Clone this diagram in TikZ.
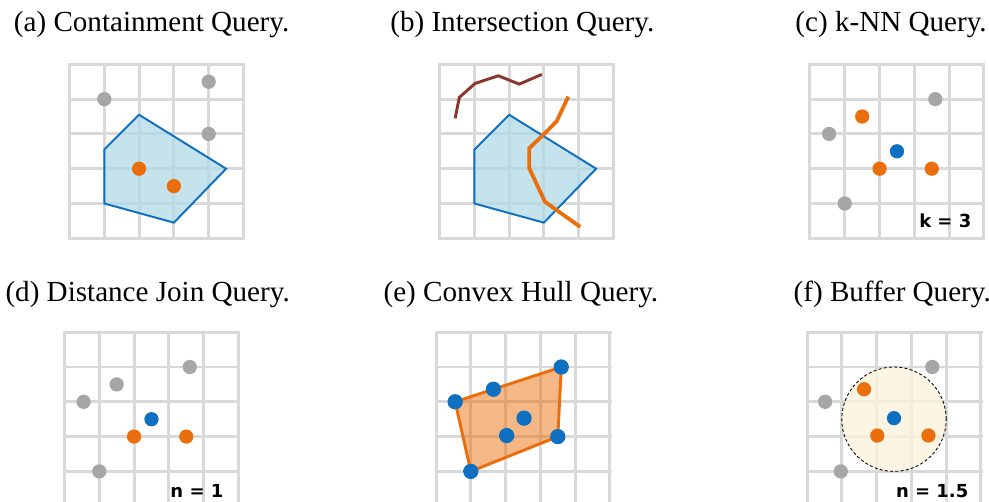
\documentclass[tikz,border=0pt]{standalone}
\usepackage{fontspec}
\setmainfont{Liberation Serif}
\setsansfont{DejaVu Sans}
\usepackage{xcolor}
\usetikzlibrary{positioning}
\definecolor{gridgris}{HTML}{D9D9D9}
\definecolor{ptgris}{HTML}{A6A6A6}
\definecolor{azul}{HTML}{0F6FC0}
\definecolor{naranja}{HTML}{EA6F0C}
\definecolor{celeste}{RGB}{178,218,230}
\definecolor{marron}{HTML}{8A3730}
\definecolor{crema}{HTML}{FCF2DC}
\tikzset{
  rejilla/.style={draw=gridgris,line width=2.45pt,line cap=rect},
  pt/.style={circle,inner sep=0pt,minimum size=0.41cm},
  pgris/.style={pt,fill=ptgris},
  pnar/.style={pt,fill=naranja},
  pazul/.style={pt,fill=azul},
  titulo/.style={anchor=base,font=\fontsize{23.8}{28}\selectfont},
  etiq/.style={anchor=base east,font=\sffamily\bfseries\fontsize{14.7}{18}\selectfont},
  consulta/.style={draw=azul,line width=1.6pt,line join=miter,fill=celeste,fill opacity=0.75}
}

\begin{document}
\begin{tikzpicture}
\clip (0,0) rectangle (28.42,-14.425);
% (a) containment
\begin{scope}[shift={(1.997,-6.848)}]
\node[titulo] (ta) at (2.36,5.93) {(a) Containment Query.};
\draw[rejilla] (0,0) grid (5,5);
\draw[consulta] (2,3.55) -- (4.5,2) -- (3,0.45) -- (1,1) -- (1,2.55) -- cycle;
\node[pgris] (a1) at (1,4) {};
\node[pgris] (a2) at (4,4.5) {};
\node[pgris] (a3) at (4,3) {};
\node[pnar] (a4) at (2,2) {};
\node[pnar] (a5) at (3,1.5) {};
\end{scope}
% (b) intersection
\begin{scope}[shift={(12.63,-6.848)}]
\node[titulo] (tb) at (2.38,5.93) {(b) Intersection Query.};
\draw[rejilla] (0,0) grid (5,5);
\draw[consulta] (2,3.55) -- (4.5,2) -- (3,0.45) -- (1,1) -- (1,2.55) -- cycle;
\draw[marron,line width=2.4pt] (0.45,3.45) -- (0.57,4.05) -- (1.02,4.45) -- (1.69,4.67)
  -- (2.29,4.43) -- (2.94,4.71);
\draw[naranja,line width=3.1pt] (3.7,4.07) -- (3.37,3.37) -- (2.98,2.97) -- (2.58,2.59)
  -- (2.58,2.01) -- (3.03,1.05) -- (4.04,0.33);
\end{scope}
% (c) k-NN
\begin{scope}[shift={(23.276,-6.848)}]
\node[titulo] (tc) at (2.33,5.93) {(c) k-NN Query.};
\draw[rejilla] (0,0) grid (5,5);
\node[pgris] (c1) at (3.6,4) {};
\node[pgris] (c2) at (0.55,3) {};
\node[pgris] (c3) at (1,1) {};
\node[pnar] (c4) at (1.5,3.5) {};
\node[pnar] (c5) at (2,2) {};
\node[pnar] (c6) at (3.5,2) {};
\node[pazul] (c0) at (2.5,2.5) {};
\node[etiq] (kc) at (4.76,0.3) {k = 3};
\end{scope}
% (d) distance join
\begin{scope}[shift={(1.853,-14.546)}]
\node[titulo] (td) at (2.39,5.87) {(d) Distance Join Query.};
\draw[rejilla] (0,0) grid (5,5);
\node[pgris] (d1) at (3.6,4) {};
\node[pgris] (d2) at (1.5,3.5) {};
\node[pgris] (d3) at (0.55,3) {};
\node[pgris] (d4) at (1,1) {};
\node[pnar] (d5) at (2,2) {};
\node[pnar] (d6) at (3.5,2) {};
\node[pazul] (d0) at (2.5,2.5) {};
\node[etiq] (nd) at (4.69,0.24) {n = 1};
\end{scope}
% (e) convex hull
\begin{scope}[shift={(12.529,-14.546)}]
\node[titulo] (te) at (2.44,5.87) {(e) Convex Hull Query.};
\draw[rejilla] (0,0) grid (5,5);
\coordinate (h1) at (0.55,3);
\coordinate (h2) at (3.6,4);
\coordinate (h3) at (3.5,2);
\coordinate (h4) at (1,1);
\draw[naranja,line width=2.4pt,line join=round,fill=naranja,fill opacity=0.5]
  (h1) -- (h2) -- (h3) -- (h4) -- cycle;
\foreach \p/\n in {(0.55,3)/e1,(3.6,4)/e2,(3.5,2)/e3,(1,1)/e4,(1.65,3.36)/e5,(2.53,2.53)/e6,(2.03,2.03)/e7}
  \node[pazul,minimum size=0.44cm] (\n) at \p {};
\end{scope}
% (f) buffer
\begin{scope}[shift={(23.19,-14.546)}]
\node[titulo] (tf) at (2.45,5.87) {(f) Buffer Query.};
\draw[rejilla] (0,0) grid (5,5);
\draw[fill=crema,fill opacity=0.8,line width=0.7pt,dash pattern=on 2.5pt off 1.8pt]
  (2.5,2.5) circle (1.5);
\node[pgris] (f1) at (3.6,4) {};
\node[pgris] (f2) at (0.52,3) {};
\node[pgris] (f3) at (0.97,1) {};
\node[pnar] (f4) at (1.64,3.36) {};
\node[pnar] (f5) at (2.02,2.03) {};
\node[pnar] (f6) at (3.49,2.03) {};
\node[pazul] (f0) at (2.5,2.53) {};
\node[etiq] (nf) at (4.76,0.24) {n = 1.5};
\end{scope}
\end{tikzpicture}
\end{document}
